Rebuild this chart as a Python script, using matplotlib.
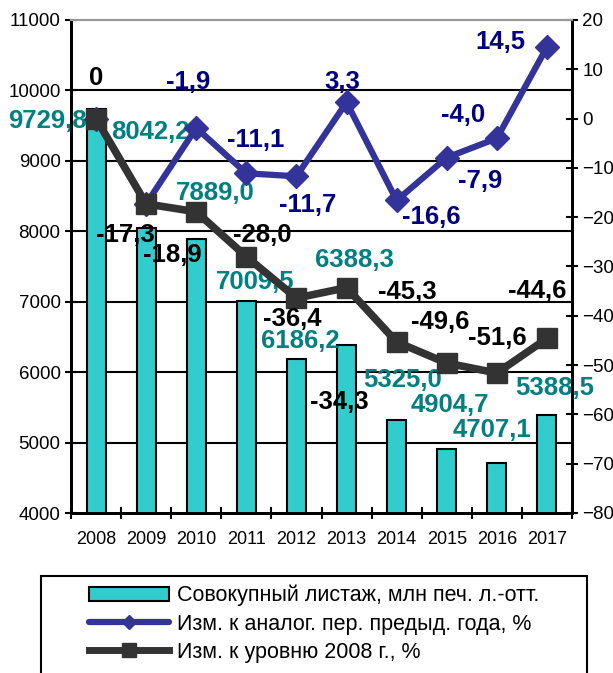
import matplotlib
matplotlib.use("Agg")
import matplotlib.pyplot as plt
from matplotlib.patches import Rectangle, Patch
from matplotlib.lines import Line2D

plt.rcParams['font.family'] = ['Liberation Sans', 'DejaVu Sans']

years = ['2008', '2009', '2010', '2011', '2012', '2013', '2014', '2015', '2016', '2017']
sheets = [9729.8, 8042.2, 7889.0, 7009.5, 6186.2, 6388.3, 5325.0, 4904.7, 4707.1, 5388.5]
yoy = [0, -17.3, -1.9, -11.1, -11.7, 3.3, -16.6, -7.9, -4.0, 14.5]
vs2008 = [0, -17.3, -18.9, -28.0, -36.4, -34.3, -45.3, -49.6, -51.6, -44.6]

sheet_lbl = ['9729,8', '8042,2', '7889,0', '7009,5', '6186,2', '6388,3', '5325,0', '4904,7', '4707,1', '5388,5']
yoy_lbl = [None, None, '-1,9', '-11,1', '-11,7', '3,3', '-16,6', '-7,9', '-4,0', '14,5']
vs2008_lbl = ['0', '-17,3', '-18,9', '-28,0', '-36,4', '-34,3', '-45,3', '-49,6', '-51,6', '-44,6']

# label offsets in pixels (dx, dy), y up
sheet_off = [(-49, -12), (4, 96), (19, 46), (9, 19), (4, 18), (8, 85), (6, 40), (3, 44), (-5, 33), (8, 27)]
yoy_off = [None, None, (-8, 46), (9, 33), (11, -29), (-4, 20), (35, -17), (33, -23), (-34, 23), (-47, 5)]
vs2008_off = [(0, 41), (-21, -31), (-24, -43), (16, 22), (-4, -21), (-7, -114), (11, 50), (-7, 41), (0, 35), (-10, 47)]

TEAL = '#33CCCC'
TEAL_TXT = '#008080'
BLUE = '#333399'
BLUE_TXT = '#000080'
DARK = '#333333'

fig = plt.figure(figsize=(6.13, 6.73), dpi=100)
ax = fig.add_axes([71 / 613, 1 - 513 / 673, 501 / 613, 493 / 673])
ax2 = ax.twinx()

x = list(range(len(years)))
ax.bar(x, sheets, width=0.38, color=TEAL, edgecolor='black', linewidth=1.5, zorder=2)
ax.set_ylim(4000, 11000)
ax.set_xlim(-0.5, 9.5)
ax.set_yticks(range(4000, 11001, 1000))
for v in range(5000, 11000, 1000):
    ax.axhline(v, color='black', linewidth=1.5, zorder=1)
ax.set_xticks([i - 0.5 for i in range(11)], minor=False)
ax.set_xticklabels([])
ax.set_xticks(x, years, minor=True)
ax.tick_params(axis='x', which='major', direction='inout', length=9, width=1.5)
ax.tick_params(axis='x', which='minor', length=0, pad=13, labelsize=13)
ax.tick_params(axis='y', direction='inout', length=9, width=1.5, labelsize=13.5, pad=3)

ax2.plot(x, yoy, color=BLUE, linewidth=4.5, marker='D', markersize=12, zorder=3)
ax2.plot(x, vs2008, color=DARK, linewidth=5.5, marker='s', markersize=15, zorder=4)
ax2.set_ylim(-80, 20)
ax2.set_yticks(range(-80, 21, 10))
ax2.tick_params(axis='y', direction='inout', length=9, width=1.5, labelsize=13.5, pad=3)

for a in (ax, ax2):
    a.spines['top'].set_color('#999999')
    a.spines['top'].set_linewidth(1.5)
    for s in ('left', 'right', 'bottom'):
        a.spines[s].set_linewidth(2)

for i in x:
    ax.annotate(sheet_lbl[i], (i, sheets[i]), xytext=sheet_off[i], textcoords='offset pixels',
                ha='center', va='center', fontsize=18.5, fontweight='bold', color=TEAL_TXT,
                annotation_clip=False, zorder=6)
    if yoy_lbl[i]:
        ax2.annotate(yoy_lbl[i], (i, yoy[i]), xytext=yoy_off[i], textcoords='offset pixels',
                     ha='center', va='center', fontsize=18.5, fontweight='bold', color=BLUE_TXT,
                     annotation_clip=False, zorder=6)
    ax2.annotate(vs2008_lbl[i], (i, vs2008[i]), xytext=vs2008_off[i], textcoords='offset pixels',
                 ha='center', va='center', fontsize=18.5, fontweight='bold', color='black',
                 annotation_clip=False, zorder=6)

# legend frame, running off the bottom edge
fig.add_artist(Rectangle((41 / 613, -0.05), (587 - 41) / 613, 1 - 576 / 673 + 0.05,
                         transform=fig.transFigure, fill=False, edgecolor='black', linewidth=1.5))

handles = [
    Patch(facecolor=TEAL, edgecolor='black', linewidth=1.5),
    Line2D([], [], color=BLUE, linewidth=4.5, marker='D', markersize=7, solid_capstyle='round'),
    Line2D([], [], color=DARK, linewidth=5, marker='s', markersize=10),
]
labels = ['Совокупный листаж, млн печ. л.-отт.',
          'Изм. к аналог. пер. предыд. года, %',
          'Изм. к уровню 2008 г., %']
fig.legend(handles, labels, loc='upper left', bbox_to_anchor=(89 / 613, 1 - 585 / 673),
           bbox_transform=fig.transFigure, frameon=False, fontsize=15.5,
           handlelength=3.7, handleheight=0.6, handletextpad=0.37, labelspacing=0.33,
           borderpad=0, borderaxespad=0)

fig.savefig('out.png', dpi=100)
